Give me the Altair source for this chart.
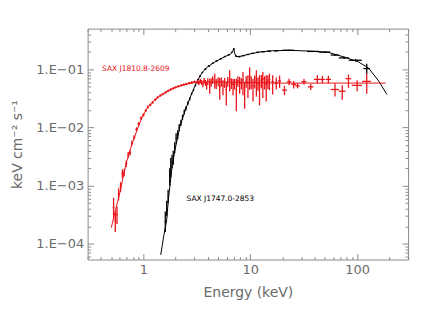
import altair as alt
import pandas as pd

# ---------------- data ----------------
# Red source: SAX J1810.8-2609 (model line)
red_model_E = [0.50, 0.53, 0.56, 0.60, 0.65, 0.70, 0.78, 0.87, 0.97, 1.10, 1.25, 1.40, 1.60,
               1.80, 2.00, 2.30, 2.70, 3.00, 3.50, 4.00, 6.0, 10.0, 20.0, 50.0, 100.0, 185.0]
red_model_F = [1.9e-4, 3.0e-4, 4.5e-4, 7.5e-4, 1.5e-3, 2.7e-3, 5.2e-3, 9.0e-3, 1.5e-2, 2.25e-2,
               2.9e-2, 3.4e-2, 4.0e-2, 4.5e-2, 4.9e-2, 5.3e-2, 5.7e-2, 5.9e-2, 6.0e-2, 6.05e-2,
               6.0e-2, 5.9e-2, 5.8e-2, 5.8e-2, 5.8e-2, 5.8e-2]

# Red source data points (energy, half bin width, flux, flux low, flux high)
red_E = [0.525, 0.545, 0.565, 0.585, 0.610, 0.635, 0.660, 0.690, 0.720, 0.750, 0.780, 0.820,
         0.860, 0.900, 0.950, 1.000, 1.050, 1.100, 1.160, 1.220, 1.290, 1.360, 1.440, 1.520,
         1.610, 1.700, 1.800, 1.900, 2.000, 2.120, 2.250, 2.380, 2.520, 2.670, 2.830, 3.000,
         3.2, 3.3, 3.4, 3.5, 3.6, 3.7, 3.8, 3.9, 4.0, 4.17, 4.3, 4.45, 4.65, 4.8, 5.0, 5.17,
         5.35, 5.55, 5.75, 5.96, 6.15, 6.41, 6.65, 6.89, 7.1, 7.4, 7.65, 7.95, 8.25, 8.54,
         8.85, 9.15, 9.5, 9.86, 10.2, 10.6, 11.0, 11.4, 11.8, 12.2, 12.7, 13.1, 13.6, 14.1,
         14.6, 15.1, 16.2,
         17.5, 18.8, 20.9, 23.1, 25.5, 27.7, 31.8, 36.8, 42.4, 47.3, 53.8, 62.1, 72.6, 83.0,
         100.0, 123.0]
red_dE = [0.010, 0.010, 0.010, 0.010, 0.012, 0.012, 0.012, 0.015, 0.015, 0.015, 0.015, 0.020,
          0.020, 0.020, 0.025, 0.025, 0.025, 0.025, 0.030, 0.030, 0.035, 0.035, 0.040, 0.040,
          0.045, 0.045, 0.050, 0.050, 0.050, 0.060, 0.060, 0.065, 0.070, 0.070, 0.080, 0.080,
          0.05, 0.05, 0.05, 0.05, 0.05, 0.05, 0.05, 0.05, 0.05, 0.07, 0.07, 0.08, 0.08, 0.08,
          0.09, 0.09, 0.09, 0.10, 0.10, 0.10, 0.10, 0.12, 0.12, 0.12, 0.12, 0.13, 0.13, 0.14,
          0.14, 0.15, 0.15, 0.16, 0.17, 0.18, 0.18, 0.20, 0.20, 0.20, 0.20, 0.25, 0.25, 0.25,
          0.25, 0.30, 0.30, 0.30, 0.50,
          0.7, 0.6, 1.1, 1.1, 1.2, 1.3, 1.8, 2.2, 3.0, 2.5, 3.2, 5.5, 5.3, 5.0, 11.0, 11.5]
red_F = [4.2e-4, 2.5e-4, 3.2e-4, 7.2e-4, 9.5e-4, 1.60e-3, 1.70e-3, 2.40e-3, 3.40e-3, 3.70e-3,
         5.40e-3, 6.80e-3, 9.30e-3, 1.15e-2, 1.45e-2, 1.65e-2, 1.95e-2, 2.25e-2, 2.45e-2,
         2.70e-2, 3.00e-2, 3.30e-2, 3.55e-2, 3.75e-2, 4.00e-2, 4.25e-2, 4.50e-2, 4.70e-2,
         4.90e-2, 5.10e-2, 5.30e-2, 5.45e-2, 5.60e-2, 5.80e-2, 5.95e-2, 6.10e-2,
         0.061, 0.058, 0.063, 0.060, 0.056, 0.064, 0.059, 0.052, 0.062, 0.055, 0.060, 0.066,
         0.062, 0.057, 0.062, 0.050, 0.061, 0.053, 0.060, 0.045, 0.062, 0.066, 0.058, 0.055,
         0.056, 0.045, 0.063, 0.058, 0.057, 0.066, 0.048, 0.062, 0.058, 0.075, 0.060, 0.052,
         0.062, 0.070, 0.057, 0.052, 0.063, 0.068, 0.060, 0.056, 0.062, 0.066, 0.061,
         0.058, 0.063, 0.044, 0.061, 0.055, 0.052, 0.061, 0.050, 0.067, 0.067, 0.067, 0.045,
         0.042, 0.069, 0.053, 0.062]
red_Flo = [2.6e-4, 1.6e-4, 2.2e-4, 5.6e-4, 7.8e-4, 1.35e-3, 1.45e-3, 2.10e-3, 3.00e-3, 3.30e-3,
           4.90e-3, 6.20e-3, 8.60e-3, 1.07e-2, 1.36e-2, 1.55e-2, 1.84e-2, 2.13e-2, 2.33e-2,
           2.57e-2, 2.86e-2, 3.15e-2, 3.39e-2, 3.58e-2, 3.82e-2, 4.06e-2, 4.30e-2, 4.49e-2,
           4.68e-2, 4.87e-2, 5.06e-2, 5.20e-2, 5.34e-2, 5.53e-2, 5.67e-2, 5.80e-2,
           0.056, 0.053, 0.057, 0.054, 0.049, 0.057, 0.052, 0.045, 0.054, 0.038, 0.050, 0.056,
           0.047, 0.046, 0.051, 0.030, 0.050, 0.036, 0.048, 0.024, 0.050, 0.042, 0.046, 0.036,
           0.045, 0.019, 0.050, 0.038, 0.045, 0.036, 0.021, 0.048, 0.032, 0.044, 0.046, 0.028,
           0.047, 0.034, 0.043, 0.024, 0.047, 0.032, 0.045, 0.028, 0.046, 0.044, 0.037,
           0.045, 0.048, 0.036, 0.053, 0.047, 0.047, 0.055, 0.044, 0.057, 0.058, 0.058, 0.034,
           0.030, 0.048, 0.042, 0.038]
red_Fhi = [6.2e-4, 3.6e-4, 4.4e-4, 9.0e-4, 1.15e-3, 1.90e-3, 1.95e-3, 2.70e-3, 3.80e-3, 4.10e-3,
           6.00e-3, 7.40e-3, 1.01e-2, 1.24e-2, 1.55e-2, 1.76e-2, 2.07e-2, 2.38e-2, 2.58e-2,
           2.84e-2, 3.15e-2, 3.46e-2, 3.72e-2, 3.93e-2, 4.19e-2, 4.45e-2, 4.71e-2, 4.92e-2,
           5.13e-2, 5.34e-2, 5.55e-2, 5.71e-2, 5.87e-2, 6.08e-2, 6.24e-2, 6.42e-2,
           0.066, 0.064, 0.069, 0.066, 0.062, 0.071, 0.066, 0.060, 0.070, 0.069, 0.070, 0.076,
           0.084, 0.068, 0.073, 0.071, 0.072, 0.065, 0.071, 0.061, 0.074, 0.096, 0.070, 0.069,
           0.068, 0.069, 0.076, 0.074, 0.070, 0.090, 0.061, 0.076, 0.079, 0.109, 0.075, 0.069,
           0.078, 0.096, 0.072, 0.079, 0.080, 0.090, 0.076, 0.079, 0.078, 0.084, 0.079,
           0.072, 0.078, 0.052, 0.069, 0.063, 0.058, 0.068, 0.056, 0.079, 0.077, 0.077, 0.057,
           0.053, 0.081, 0.065, 0.084]

# Black source: SAX J1747.0-2853 (model line)
blk_model_E = [1.45, 1.50, 1.55, 1.60, 1.65, 1.71, 1.78, 1.84, 1.90, 1.97, 2.08, 2.19, 2.35,
               2.53, 2.72, 2.92, 3.14, 3.49, 3.75, 4.2, 4.65, 5.3, 5.97, 6.4, 6.64, 6.85, 7.02,
               7.12, 7.38, 8.2, 9.86, 12.6, 16.2, 23.0, 35.0, 54.0, 78.0, 103.0, 128.0, 159.0,
               190.0]
blk_model_F = [6.5e-5, 9.5e-5, 1.4e-4, 1.9e-4, 2.6e-4, 5.8e-4, 1.1e-3, 1.9e-3, 2.8e-3, 4.1e-3,
               6.6e-3, 1.03e-2, 1.55e-2, 2.27e-2, 3.2e-2, 4.38e-2, 6.0e-2, 8.4e-2, 0.100, 0.118,
               0.133, 0.152, 0.170, 0.180, 0.187, 0.205, 0.228, 0.190, 0.165, 0.168, 0.183,
               0.200, 0.208, 0.212, 0.206, 0.195, 0.160, 0.134, 0.105, 0.063, 0.037]

# Black source data points
blk_E = [1.60, 1.65, 1.70, 1.76, 1.80, 1.85, 1.90, 1.96, 2.02, 2.09, 2.16, 2.24, 2.32, 2.41,
         2.50, 2.60, 2.71, 2.82, 2.94, 3.07, 3.22, 3.38, 3.56, 3.80, 4.10, 4.45, 4.85, 5.30,
         5.80, 6.30, 6.70, 7.00, 7.35, 7.90, 8.60, 9.50, 10.5, 11.7, 13.2, 15.0, 17.5,
         22.8, 39.0, 50.0, 62.0, 75.5, 97.0, 123.0]
blk_dE = [0.02, 0.02, 0.02, 0.02, 0.02, 0.02, 0.02, 0.02, 0.025, 0.03, 0.03, 0.03, 0.03, 0.03,
          0.03, 0.03, 0.03, 0.03, 0.03, 0.04, 0.05, 0.05, 0.06, 0.08, 0.10, 0.10, 0.12, 0.12,
          0.15, 0.15, 0.10, 0.08, 0.10, 0.20, 0.25, 0.30, 0.30, 0.40, 0.50, 0.60, 0.80,
          2.9, 5.0, 6.0, 5.4, 8.2, 13.5, 8.5]
blk_F = [2.4e-4, 4.0e-4, 6.5e-4, 1.4e-3, 2.0e-3, 2.6e-3, 3.0e-3, 4.5e-3, 6.5e-3, 7.5e-3,
         1.00e-2, 1.20e-2, 1.50e-2, 1.85e-2, 2.15e-2, 2.60e-2, 3.10e-2, 3.80e-2, 4.40e-2,
         5.30e-2, 6.60e-2, 7.60e-2, 8.80e-2, 0.100, 0.114, 0.127, 0.140, 0.152, 0.166, 0.178,
         0.196, 0.222, 0.168, 0.165, 0.172, 0.180, 0.188, 0.196, 0.200, 0.205, 0.208,
         0.212, 0.203, 0.198, 0.176, 0.157, 0.143, 0.103]
blk_Flo = [1.6e-4, 3.0e-4, 5.0e-4, 1.0e-3, 1.4e-3, 2.0e-3, 2.3e-3, 3.6e-3, 5.3e-3, 6.2e-3,
           8.7e-3, 1.06e-2, 1.35e-2, 1.68e-2, 1.98e-2, 2.42e-2, 2.90e-2, 3.60e-2, 4.20e-2,
           5.10e-2, 6.40e-2, 7.40e-2, 8.60e-2, 0.097, 0.111, 0.124, 0.137, 0.149, 0.163, 0.175,
           0.192, 0.216, 0.164, 0.161, 0.168, 0.176, 0.184, 0.192, 0.196, 0.201, 0.204,
           0.208, 0.199, 0.193, 0.169, 0.150, 0.136, 0.084]
blk_Fhi = [3.6e-4, 5.5e-4, 8.5e-4, 2.0e-3, 3.0e-3, 3.4e-3, 4.0e-3, 5.6e-3, 8.0e-3, 9.0e-3,
           1.15e-2, 1.36e-2, 1.66e-2, 2.03e-2, 2.33e-2, 2.80e-2, 3.30e-2, 4.00e-2, 4.60e-2,
           5.50e-2, 6.80e-2, 7.80e-2, 9.00e-2, 0.103, 0.117, 0.130, 0.143, 0.155, 0.169, 0.181,
           0.200, 0.228, 0.172, 0.169, 0.176, 0.184, 0.192, 0.200, 0.204, 0.209, 0.212,
           0.216, 0.207, 0.203, 0.184, 0.165, 0.150, 0.125]

# Source labels
label_text = ["SAX J1810.8-2609", "SAX J1747.0-2853"]
label_E = [0.41, 2.53]
label_F = [0.100, 5.8e-4]
label_color = ["#e8141a", "#000000"]

# Axis ticks
x_ticks = [0.3, 0.4, 0.5, 0.6, 0.7, 0.8, 0.9, 1, 2, 3, 4, 5, 6, 7, 8, 9, 10,
           20, 30, 40, 50, 60, 70, 80, 90, 100, 200, 300]
y_ticks = [6e-5, 7e-5, 8e-5, 9e-5, 1e-4, 2e-4, 3e-4, 4e-4, 5e-4, 6e-4, 7e-4, 8e-4, 9e-4,
           1e-3, 2e-3, 3e-3, 4e-3, 5e-3, 6e-3, 7e-3, 8e-3, 9e-3, 1e-2, 2e-2, 3e-2, 4e-2,
           5e-2, 6e-2, 7e-2, 8e-2, 9e-2, 0.1, 0.2, 0.3, 0.4]

# ---------------- tables ----------------
red_model = pd.DataFrame({"E": red_model_E, "F": red_model_F})
blk_model = pd.DataFrame({"E": blk_model_E, "F": blk_model_F})
red_df = pd.DataFrame({"E": red_E, "dE": red_dE, "F": red_F, "Flo": red_Flo, "Fhi": red_Fhi})
red_df["Elo"] = red_df["E"] - red_df["dE"]
red_df["Ehi"] = red_df["E"] + red_df["dE"]
blk_df = pd.DataFrame({"E": blk_E, "dE": blk_dE, "F": blk_F, "Flo": blk_Flo, "Fhi": blk_Fhi})
blk_df["Elo"] = blk_df["E"] - blk_df["dE"]
blk_df["Ehi"] = blk_df["E"] + blk_df["dE"]
labels = pd.DataFrame({"t": label_text, "E": label_E, "F": label_F, "c": label_color})

RED = "#e8141a"
GRAY = "#8a8a8a"
TXT = "#6a6a6a"
FONT = "DejaVu Sans"

xs = alt.Scale(type="log", domain=[0.3, 300], nice=False)
ys = alt.Scale(type="log", domain=[5.4e-5, 0.5], nice=False)

MAJ = "abs(log(datum.value)/LN10 - round(log(datum.value)/LN10)) < 0.01"
TICK = {"condition": {"test": MAJ, "value": -6}, "value": -3}

common = dict(tickSize=TICK, tickColor=GRAY, domainColor=GRAY, tickWidth=1, domainWidth=1,
              grid=False, labelOverlap=False, labelBound=False, labelFlush=False)

ax_bottom = alt.Axis(orient="bottom", values=x_ticks,
                     labelExpr=f"({MAJ}) ? '' + round(datum.value) : ''",
                     labelFont=FONT, labelFontSize=13, labelColor=TXT, labelPadding=10,
                     title="Energy (keV)", titleFont=FONT, titleFontSize=14,
                     titleFontWeight="normal", titleColor=TXT, titleY=33,
                     titleBaseline="middle", **common)
ax_left = alt.Axis(orient="left", values=y_ticks,
                   labelExpr=f"({MAJ}) ? '1.E\u22120' + (-round(log(datum.value)/LN10)) : ''",
                   labelFont=FONT, labelFontSize=13, labelColor=TXT, labelPadding=10,
                   title="keV cm\u207b\u00b2 s\u207b\u00b9", titleFont=FONT, titleFontSize=14,
                   titleFontWeight="normal", titleColor=TXT, titleX=-70, titleY=116,
                   titleBaseline="middle", titleAngle=270, **common)
ax_top = alt.Axis(orient="top", values=x_ticks, labels=False, title="", **common)
ax_right = alt.Axis(orient="right", values=y_ticks, labels=False, title="", **common)

axes_bl = alt.Chart(red_model).mark_point(opacity=0).encode(
    x=alt.X("E:Q", scale=xs, axis=ax_bottom),
    y=alt.Y("F:Q", scale=ys, axis=ax_left))
axes_tr = alt.Chart(red_model).mark_point(opacity=0).encode(
    x=alt.X("E:Q", scale=xs, axis=ax_top),
    y=alt.Y("F:Q", scale=ys, axis=ax_right))


def model_line(df, color):
    return alt.Chart(df).mark_line(color=color, strokeWidth=1, clip=True).encode(
        x=alt.X("E:Q", scale=xs, axis=None),
        y=alt.Y("F:Q", scale=ys, axis=None))


def error_bars(df, color):
    h = alt.Chart(df).mark_rule(color=color, strokeWidth=1.3).encode(
        x=alt.X("Elo:Q", scale=xs, axis=None), x2="Ehi:Q",
        y=alt.Y("F:Q", scale=ys, axis=None))
    v = alt.Chart(df).mark_rule(color=color, strokeWidth=1.3).encode(
        x=alt.X("E:Q", scale=xs, axis=None),
        y=alt.Y("Flo:Q", scale=ys, axis=None), y2="Fhi:Q")
    return h + v


texts = alt.Chart(labels).mark_text(align="left", baseline="middle", font=FONT,
                                    fontSize=7.5).encode(
    x=alt.X("E:Q", scale=xs, axis=None),
    y=alt.Y("F:Q", scale=ys, axis=None),
    text="t:N",
    color=alt.Color("c:N", scale=None))

chart = alt.layer(
    model_line(blk_model, "#000000"),
    error_bars(blk_df, "#000000"),
    model_line(red_model, RED),
    error_bars(red_df, RED),
    texts,
    axes_bl,
    axes_tr,
).resolve_axis(x="independent", y="independent").properties(
    width=322, height=232,
    autosize=alt.AutoSizeParams(type="none"),
    padding={"left": 80, "top": 20, "right": 20, "bottom": 49},
    background="white",
).configure_view(stroke=None)

chart.save("out.html", embed_options={"renderer": "svg", "actions": False})
